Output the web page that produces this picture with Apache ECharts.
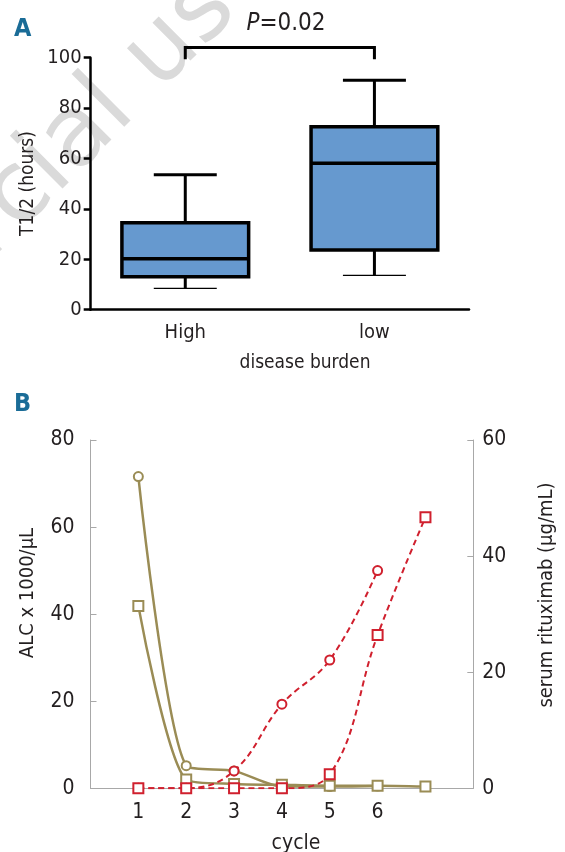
<!DOCTYPE html>
<html>
<head>
<meta charset="utf-8">
<script src="https://cdn.jsdelivr.net/npm/echarts@6/dist/echarts.min.js"></script>
<style>html,body{margin:0;padding:0;background:#fff;}#c{width:565px;height:852px;}</style>
</head>
<body>
<div id="c"></div>
<script>
// ---------- Panel A data ----------
const categoriesA = ['High', 'low'];
const boxMin = [8.5, 13.6];
const boxQ1 = [13.1, 23.7];
const boxMedian = [20.2, 58.1];
const boxQ3 = [34.5, 72.6];
const boxMax = [53.6, 91.1];
const yTicksA = [0, 20, 40, 60, 80, 100];
const bracketCats = [0, 1];
const bracketLevels = [99.4, 104];
const pText = '0.02';

// ---------- Panel B data ----------
const cycleLabels = [1, 2, 3, 4, 5, 6];
const xCycles = [1, 2, 3, 4, 5, 6, 7];
const alcCircle = [71.6, 5.2, 4.0, 0.4, 0.4, 0.5];
const alcSquare = [41.9, 2.0, 1.0, 0.8, 0.6, 0.6, 0.4];
const rituxCircle = [0, 0, 3.0, 14.5, 22.1, 37.5];
const rituxSquare = [0, 0, 0, 0, 2.4, 26.4, 46.7];
const yTicksLeftB = [0, 20, 40, 60, 80];
const yTicksRightB = [0, 20, 40, 60];

const FONT = "'DejaVu Sans Condensed',Roboto,sans-serif";
const TXT = '#231f20';
const OLIVE = '#9a8c55';
const RED = '#d0202e';
const BOXFILL = '#6699cf';
const GRAYAX = '#a8a8a8';
const WM = '#dadada';

function pair(xs, ys) { return ys.map((v, i) => [xs[i], v]); }

const boxData = categoriesA.map((c, i) => [i, boxMin[i], boxQ1[i], boxMedian[i], boxQ3[i], boxMax[i]]);

const chart = echarts.init(document.getElementById('c'), null, {renderer: 'canvas'});

const wmRot = 45 * Math.PI / 180;
const wmFont = '98px "DejaVu Sans", sans-serif';
const option = {
  animation: false,
  backgroundColor: '#fff',
  textStyle: {fontFamily: FONT},
  grid: [
    {left: 90.7, right: 96, top: 57.7, bottom: 542.3, containLabel: false},
    {left: 90.5, right: 91.7, top: 440, bottom: 63.7, containLabel: false}
  ],
  xAxis: [
    {
      gridIndex: 0, type: 'category', data: categoriesA, boundaryGap: true,
      axisLine: {lineStyle: {color: '#000', width: 2.5}},
      axisTick: {alignWithLabel: true, length: 7, lineStyle: {color: '#000', width: 2.5}},
      axisLabel: {color: TXT, fontSize: 20, fontFamily: FONT, margin: 13},
      splitLine: {show: false}
    },
    {
      gridIndex: 1, type: 'value', min: 0, max: 8, interval: 1,
      axisLine: {lineStyle: {color: GRAYAX, width: 1}},
      axisTick: {show: false},
      axisLabel: {color: TXT, fontSize: 21, fontFamily: FONT, margin: 14,
        formatter: v => cycleLabels.indexOf(v) >= 0 ? String(v) : ''},
      splitLine: {show: false}
    }
  ],
  yAxis: [
    {
      gridIndex: 0, type: 'value', min: yTicksA[0], max: yTicksA[yTicksA.length - 1], interval: 20,
      axisLine: {show: true, lineStyle: {color: '#000', width: 2.5}},
      axisTick: {show: true, length: 7, lineStyle: {color: '#000', width: 2.5}},
      axisLabel: {color: TXT, fontSize: 20, fontFamily: FONT, margin: 9},
      splitLine: {show: false}
    },
    {
      gridIndex: 1, type: 'value', min: 0, max: yTicksLeftB[yTicksLeftB.length - 1], interval: 20,
      axisLine: {show: true, lineStyle: {color: GRAYAX, width: 1}},
      axisTick: {show: true, inside: true, length: 6, lineStyle: {color: GRAYAX, width: 1}},
      axisLabel: {color: TXT, fontSize: 21, fontFamily: FONT, margin: 16},
      splitLine: {show: false}
    },
    {
      gridIndex: 1, type: 'value', position: 'right', min: 0, max: yTicksRightB[yTicksRightB.length - 1], interval: 20,
      axisLine: {show: true, lineStyle: {color: GRAYAX, width: 1}},
      axisTick: {show: true, inside: true, length: 6, lineStyle: {color: GRAYAX, width: 1}},
      axisLabel: {color: TXT, fontSize: 21, fontFamily: FONT, margin: 9},
      splitLine: {show: false}
    }
  ],
  series: [
    {
      type: 'custom', xAxisIndex: 0, yAxisIndex: 0, clip: false, z: 3,
      data: boxData,
      renderItem: function (params, api) {
        const idx = api.value(0);
        const band = api.size([1, 0])[0];
        const boxW = band * 0.67, capW = band * 0.333;
        const pMin = api.coord([idx, api.value(1)]);
        const pQ1 = api.coord([idx, api.value(2)]);
        const pMed = api.coord([idx, api.value(3)]);
        const pQ3 = api.coord([idx, api.value(4)]);
        const pMax = api.coord([idx, api.value(5)]);
        const cx = pMed[0];
        const blk = {stroke: '#000', lineWidth: 3, fill: null};
        return {
          type: 'group',
          children: [
            {type: 'line', shape: {x1: cx, y1: pQ3[1], x2: cx, y2: pMax[1]}, style: blk},
            {type: 'line', shape: {x1: cx - capW / 2, y1: pMax[1], x2: cx + capW / 2, y2: pMax[1]}, style: blk},
            {type: 'line', shape: {x1: cx, y1: pQ1[1], x2: cx, y2: pMin[1]}, style: blk},
            {type: 'line', shape: {x1: cx - capW / 2, y1: pMin[1], x2: cx + capW / 2, y2: pMin[1]}, style: {stroke: '#000', lineWidth: 1.2}},
            {type: 'rect', shape: {x: cx - boxW / 2, y: pQ3[1], width: boxW, height: pQ1[1] - pQ3[1]},
              style: {fill: BOXFILL, stroke: '#000', lineWidth: 3.5}},
            {type: 'line', shape: {x1: cx - boxW / 2, y1: pMed[1], x2: cx + boxW / 2, y2: pMed[1]}, style: {stroke: '#000', lineWidth: 3.5}}
          ]
        };
      }
    },
    {
      type: 'custom', xAxisIndex: 0, yAxisIndex: 0, clip: false, z: 3,
      data: [[bracketCats[0], bracketCats[1], bracketLevels[0], bracketLevels[1]]],
      renderItem: function (params, api) {
        const a0 = api.coord([api.value(0), api.value(2)]);
        const a1 = api.coord([api.value(0), api.value(3)]);
        const b1 = api.coord([api.value(1), api.value(3)]);
        const b0 = api.coord([api.value(1), api.value(2)]);
        return {type: 'polyline', shape: {points: [a0, a1, b1, b0]}, style: {stroke: '#000', lineWidth: 3, fill: null}};
      }
    },
    {
      name: 'ALC circle', type: 'line', xAxisIndex: 1, yAxisIndex: 1, data: pair(xCycles, alcCircle),
      smooth: 0.25, symbol: 'emptyCircle', symbolSize: 9,
      lineStyle: {color: OLIVE, width: 2.5}, itemStyle: {color: OLIVE, borderWidth: 2}, z: 2
    },
    {
      name: 'ALC square', type: 'line', xAxisIndex: 1, yAxisIndex: 1, data: pair(xCycles, alcSquare),
      smooth: 0.25, symbol: 'emptyRect', symbolSize: 10,
      lineStyle: {color: OLIVE, width: 2.5}, itemStyle: {color: OLIVE, borderWidth: 2}, z: 2
    },
    {
      name: 'Rituximab circle', type: 'line', xAxisIndex: 1, yAxisIndex: 2, data: pair(xCycles, rituxCircle),
      smooth: 0.4, symbol: 'emptyCircle', symbolSize: 9,
      lineStyle: {color: RED, width: 2, type: [6, 4]}, itemStyle: {color: RED, borderWidth: 2}, z: 3
    },
    {
      name: 'Rituximab square', type: 'line', xAxisIndex: 1, yAxisIndex: 2, data: pair(xCycles, rituxSquare),
      smooth: 0.4, symbol: 'emptyRect', symbolSize: 10,
      lineStyle: {color: RED, width: 2, type: [6, 4]}, itemStyle: {color: RED, borderWidth: 2}, z: 4
    }
  ],
  graphic: [
    {type: 'group', z: -10, silent: true, children: [
      {type: 'text', x: 0, y: 215, rotation: wmRot, z: -10,
        style: {text: 'cial use only', font: wmFont, fill: WM, textAlign: 'left', textVerticalAlign: 'middle'}},
      {type: 'text', x: 0, y: 215, rotation: wmRot, z: -10,
        style: {text: 'Non-commer', font: wmFont, fill: WM, textAlign: 'right', textVerticalAlign: 'middle'}}
    ]},
    {type: 'text', x: 14, y: 29, style: {text: 'A', font: 'bold 25px ' + FONT, fill: '#1a6c97', textAlign: 'left', textVerticalAlign: 'middle'}},
    {type: 'text', x: 14, y: 404, style: {text: 'B', font: 'bold 25px ' + FONT, fill: '#1a6c97', textAlign: 'left', textVerticalAlign: 'middle'}},
    {type: 'text', x: 286, y: 24, style: {
      text: '{i|P}=' + pText, textAlign: 'center', textVerticalAlign: 'middle',
      font: '24px ' + FONT, fill: TXT,
      rich: {i: {fontStyle: 'italic', fontSize: 24, fontFamily: FONT, fill: TXT}}
    }},
    {type: 'text', x: 28, y: 183.5, rotation: Math.PI / 2, style: {text: 'T1/2 (hours)', font: '19px ' + FONT, fill: TXT, textAlign: 'center', textVerticalAlign: 'middle'}},
    {type: 'text', x: 305, y: 363, style: {text: 'disease burden', font: '19px ' + FONT, fill: TXT, textAlign: 'center', textVerticalAlign: 'middle'}},
    {type: 'text', x: 28, y: 593, rotation: Math.PI / 2, style: {text: 'ALC x 1000/\u03bcL', font: '20px ' + FONT, fill: TXT, textAlign: 'center', textVerticalAlign: 'middle'}},
    {type: 'text', x: 547, y: 595, rotation: Math.PI / 2, style: {text: 'serum rituximab (\u03bcg/mL)', font: '20px ' + FONT, fill: TXT, textAlign: 'center', textVerticalAlign: 'middle'}},
    {type: 'text', x: 296, y: 844, style: {text: 'cycle', font: '21px ' + FONT, fill: TXT, textAlign: 'center', textVerticalAlign: 'middle'}}
  ]
};
chart.setOption(option);
</script>
</body>
</html>
